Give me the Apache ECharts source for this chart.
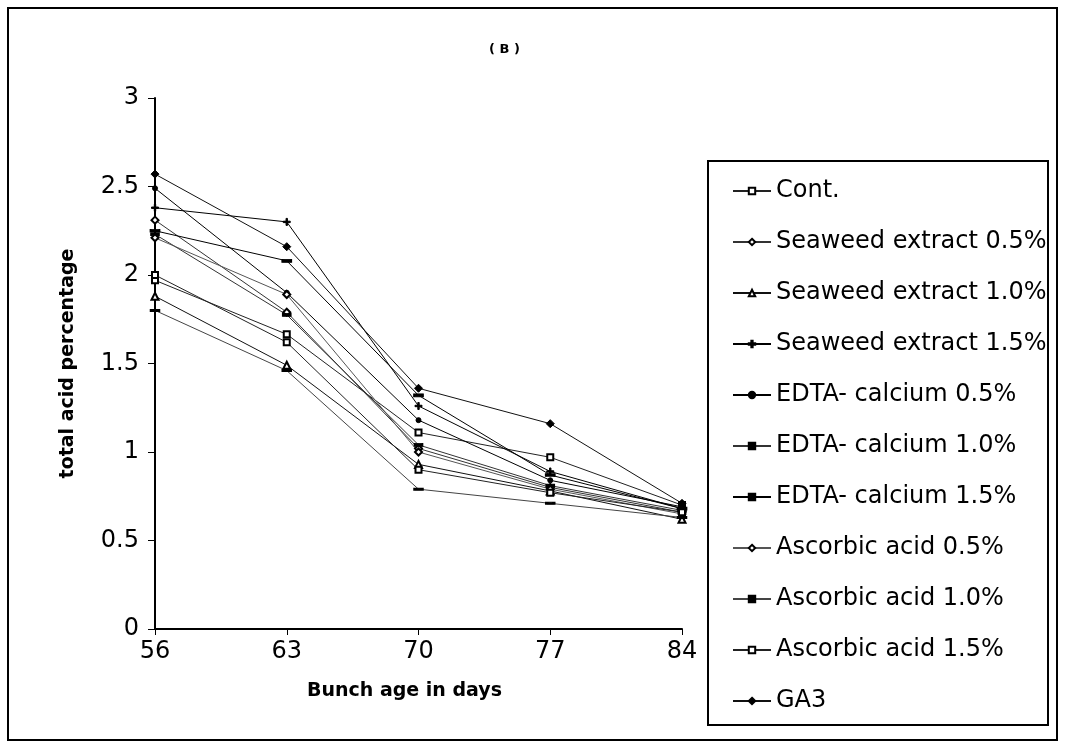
<!DOCTYPE html>
<html>
<head>
<meta charset="utf-8">
<title>total acid percentage</title>
<script src="https://cdn.jsdelivr.net/npm/echarts@6/dist/echarts.min.js"></script>
<style>
  html, body { margin: 0; padding: 0; background: #fff; }
  #main { width: 1065px; height: 746px; }
</style>
</head>
<body>
<div id="main"></div>
<script>
// bunch age (days) on the x axis
const days = ['56', '63', '70', '77', '84']
const yTicks = [0, 0.5, 1, 1.5, 2, 2.5, 3]

// total acid % for each treatment
const cont = [1.97, 1.665, 1.11, 0.97, 0.70]
const seaweed05 = [2.31, 1.79, 1.02, 0.80, 0.66]
const seaweed10 = [1.88, 1.49, 0.93, 0.78, 0.62]
const seaweed15 = [2.38, 2.30, 1.26, 0.89, 0.68]
const edta05 = [2.49, 1.90, 1.18, 0.84, 0.69]
const edta10 = [2.23, 1.775, 1.04, 0.81, 0.67]
const edta15 = [2.25, 2.08, 1.32, 0.87, 0.68]
const ascorbic05 = [2.21, 1.89, 1.00, 0.79, 0.65]
const ascorbic10 = [1.80, 1.46, 0.79, 0.71, 0.63]
const ascorbic15 = [2.00, 1.62, 0.90, 0.77, 0.66]
const ga3 = [2.57, 2.16, 1.36, 1.16, 0.71]

const names = [
  'Cont.', 'Seaweed extract 0.5%', 'Seaweed extract 1.0%', 'Seaweed extract 1.5%',
  'EDTA- calcium 0.5%', 'EDTA- calcium 1.0%', 'EDTA- calcium 1.5%',
  'Ascorbic acid 0.5%', 'Ascorbic acid 1.0%', 'Ascorbic acid 1.5%', 'GA3'
]
const values = [cont, seaweed05, seaweed10, seaweed15, edta05, edta10, edta15,
  ascorbic05, ascorbic10, ascorbic15, ga3]

const dash = 'path://M0,0L10,0L10,3L0,3Z'
const plus = 'path://M0,4L10,4L10,6L0,6Z M4,0L6,0L6,10L4,10Z'
// marker per series
const marks = [
  { s: 'emptyRect', z: 6 },
  { s: 'emptyDiamond', z: 7 },
  { s: 'emptyTriangle', z: 7 },
  { s: plus, z: 7 },
  { s: 'circle', z: 5 },
  { s: dash, z: [8, 3] },
  { s: dash, z: [9, 3] },
  { s: 'emptyDiamond', z: 7 },
  { s: dash, z: [7, 2] },
  { s: 'emptyRect', z: 6 },
  { s: 'diamond', z: 8 }
]
const lineColors = ['#222', '#333', '#111', '#000', '#000', '#333', '#000', '#555', '#444', '#222', '#111']

const font = 'DejaVu Sans'

const myChart = echarts.init(document.getElementById('main'))
const option = {
  animation: false,
  backgroundColor: '#fff',
  title: {
    text: '( B )',
    left: 484,
    top: 38,
    textStyle: { fontFamily: font, fontSize: 13, fontWeight: 'bold', color: '#000' }
  },
  grid: {
    left: 155,
    right: 383,
    top: 98,
    bottom: 117
  },
  legend: {
    orient: 'vertical',
    left: 727,
    top: 174,
    itemWidth: 38,
    itemHeight: 8,
    itemGap: 27,
    data: names,
    textStyle: { fontFamily: font, fontSize: 24, lineHeight: 24, color: '#000' }
  },
  xAxis: {
    type: 'category',
    data: days,
    boundaryGap: false,
    name: 'Bunch age in days',
    nameLocation: 'middle',
    nameGap: 53,
    nameTextStyle: { fontFamily: font, fontSize: 19, fontWeight: 'bold', color: '#000', padding: [0, 28, 0, 0] },
    axisLine: { lineStyle: { color: '#000', width: 2 } },
    axisTick: { show: true, length: 6, lineStyle: { color: '#000' } },
    axisLabel: { fontFamily: font, fontSize: 24, color: '#000', margin: 11 },
    splitLine: { show: false }
  },
  yAxis: {
    type: 'value',
    min: yTicks[0],
    max: yTicks[yTicks.length - 1],
    interval: 0.5,
    name: 'total acid percentage',
    nameLocation: 'middle',
    nameRotate: 90,
    nameGap: 77,
    nameTextStyle: { fontFamily: font, fontSize: 19, fontWeight: 'bold', color: '#000' },
    axisLine: { show: true, lineStyle: { color: '#000', width: 2 } },
    axisTick: { show: true, length: 7, inside: false, lineStyle: { color: '#000' } },
    axisLabel: { fontFamily: font, fontSize: 24, color: '#000', margin: 16 },
    splitLine: { show: false }
  },
  graphic: [
    {
      type: 'rect',
      shape: { x: 8, y: 8, width: 1049, height: 732 },
      style: { fill: 'none', stroke: '#000', lineWidth: 2 },
      silent: true
    },
    {
      type: 'rect',
      shape: { x: 708, y: 161, width: 340, height: 564 },
      style: { fill: 'none', stroke: '#000', lineWidth: 2 },
      silent: true
    }
  ],
  series: names.map((n, i) => ({
    name: n,
    type: 'line',
    data: values[i],
    symbol: marks[i].s,
    symbolSize: marks[i].z,
    showAllSymbol: true,
    lineStyle: { color: lineColors[i], width: 1 },
    itemStyle: { color: '#000', borderColor: '#000', borderWidth: 1 }
  }))
}
myChart.setOption(option)
</script>
</body>
</html>
